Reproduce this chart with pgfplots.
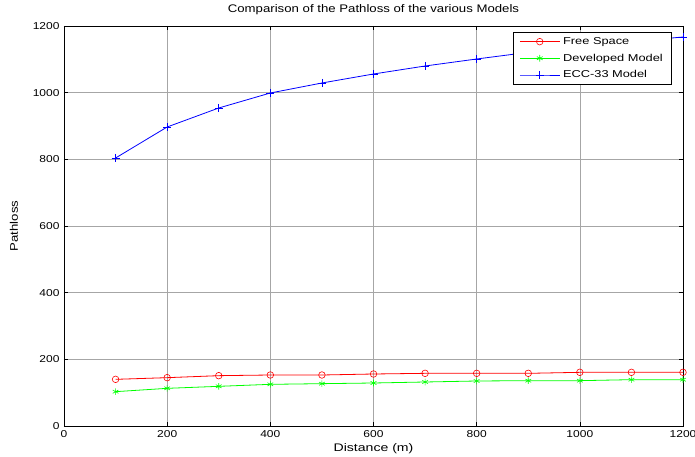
\documentclass[border=0pt]{standalone}
\usepackage{pgfplots}
\pgfplotsset{compat=1.18}
\usepackage{fontspec}
\setmainfont{Liberation Sans}
\newfontfamily\sfont[FakeStretch=1.2]{Liberation Sans}
\newfontfamily\lfont[FakeStretch=1.28]{Liberation Sans}
\pgfplotsset{myleg/.style={legend image code/.code={\draw[#1, mark repeat=2, mark phase=2, line width=0.8pt] plot coordinates {(0pt,0pt) (20pt,0pt) (40pt,0pt)};}}}
\begin{document}
\begin{tikzpicture}
\useasboundingbox (-64pt,-31pt) rectangle (631pt,426pt);
\begin{axis}[
  at={(0,0)}, anchor=south west,
  scale only axis, width=619pt, height=400pt,
  xmin=0, xmax=1200, ymin=0, ymax=1200,
  xtick={0,200,...,1200}, ytick={0,200,...,1200},
  tick align=inside, major tick length=4pt,
  xtick pos=both, ytick pos=both,
  grid=major,
  major grid style={gray!70, line width=0.5pt},
  axis line style={line width=0.8pt},
  tick style={black, line width=0.6pt},
  /pgf/number format/assume math mode=true,
  /pgf/number format/1000 sep={},
  ticklabel style={font=\sfont\fontsize{10}{12}\selectfont},
  xticklabel style={yshift=-1pt},
  yticklabel style={xshift=-1pt},
  every axis title shift=0pt,
  title={Comparison of the Pathloss of the various Models},
  title style={font=\sfont\fontsize{11}{13}\selectfont, at={(axis description cs:0.5,1)}, anchor=center, yshift=16pt},
  xlabel={Distance (m)}, ylabel={Pathloss},
  xlabel style={font=\lfont\fontsize{11}{13}\selectfont, at={(axis description cs:0.5,-0.0575)}, anchor=center},
  ylabel style={font=\sfont\fontsize{11}{13}\selectfont, at={(axis description cs:-0.0808,0.5)}, anchor=center},
  legend style={at={(axis description cs:0.9825,0.985)}, anchor=north east,
    font=\lfont\fontsize{10}{12}\selectfont, line width=0.8pt, fill=white,
    row sep=6pt, inner xsep=6pt, inner ysep=4pt,
    nodes={inner xsep=3pt, inner ysep=1pt}},
  legend cell align=left,
]
\addplot[color=red, line width=0.8pt, mark=o, mark size=3.3pt, mark options={line width=0.6pt},
  myleg={red, mark=o, mark size=3.3pt, mark options={red, line width=0.6pt}}] coordinates {
(100,140) (200,145) (300,151) (400,153) (500,153) (600,156) (700,158) (800,158) (900,158) (1000,161) (1100,161) (1200,161)};
\addlegendentry{Free Space}
\addplot[color=green, line width=0.8pt, mark=asterisk, mark size=3.3pt, mark options={line width=0.6pt},
  myleg={green, mark=asterisk, mark size=3.3pt, mark options={green, line width=0.6pt}}] coordinates {
(100,103) (200,113) (300,119) (400,125) (500,127) (600,129) (700,132) (800,135) (900,136) (1000,136) (1100,139) (1200,139)};
\addlegendentry{Developed Model}
\addplot[color=blue, line width=0.8pt, mark=+, mark size=4pt, mark options={line width=0.6pt},
  myleg={blue, mark=+, mark size=4pt, mark options={blue, line width=0.6pt}}] coordinates {
(100,804) (200,897) (300,954) (400,999) (500,1029) (600,1056) (700,1080) (800,1101) (900,1121) (1000,1139) (1100,1153) (1200,1167)};
\addlegendentry{ECC-33 Model}
\end{axis}
\end{tikzpicture}
\end{document}
